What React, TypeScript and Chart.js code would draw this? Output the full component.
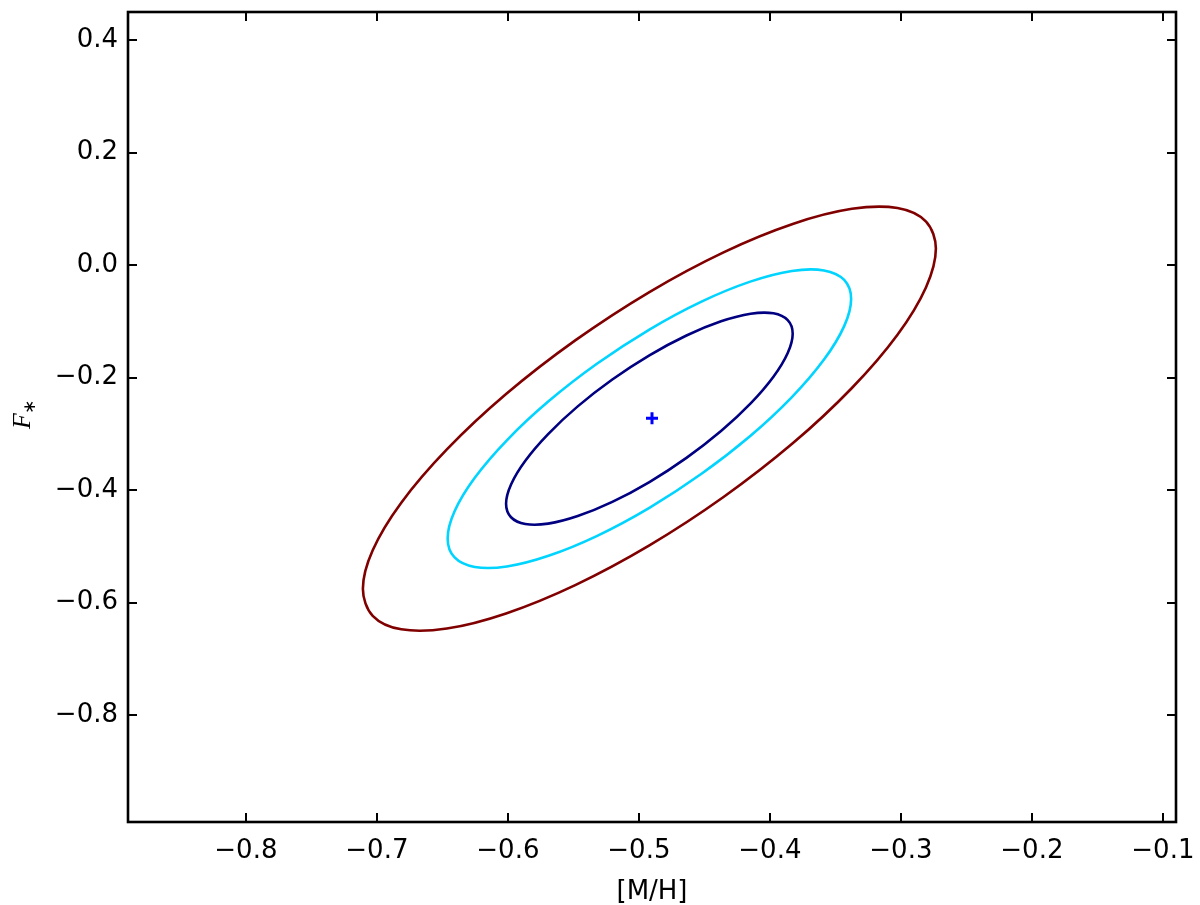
import { useEffect, useRef } from 'react';
import { Chart, registerables } from 'chart.js';

Chart.register(...registerables);

// ---- axes ----
const X_RANGE = [-0.89, -0.09];
const Y_RANGE = [-0.99, 0.45];
const X_TICKS = [-0.8, -0.7, -0.6, -0.5, -0.4, -0.3, -0.2, -0.1];
const Y_TICKS = [-0.8, -0.6, -0.4, -0.2, 0.0, 0.2, 0.4];
const X_TITLE = '[M/H]';
const Y_TITLE_MAIN = 'F';
const Y_TITLE_SUB = '\u2217';

// ---- contour points ----
const OUTER_X = [-0.2733, -0.2808, -0.3026, -0.3374, -0.3826, -0.4354, -0.4920, -0.5486, -0.6014, -0.6466, -0.6814, -0.7032,
  -0.7107, -0.7032, -0.6814, -0.6466, -0.6014, -0.5486, -0.4920, -0.4354, -0.3826, -0.3374, -0.3026, -0.2808];
const OUTER_Y = [0.0294, 0.0774, 0.1015, 0.1001, 0.0732, 0.0228, -0.0478, -0.1338, -0.2292, -0.3276, -0.4223, -0.5068,
  -0.5754, -0.6234, -0.6475, -0.6461, -0.6192, -0.5688, -0.4982, -0.4122, -0.3168, -0.2184, -0.1237, -0.0392];

const MIDDLE_X = [-0.3380, -0.3433, -0.3587, -0.3832, -0.4150, -0.4522, -0.4920, -0.5318, -0.5690, -0.6008, -0.6253, -0.6407,
  -0.6460, -0.6407, -0.6253, -0.6008, -0.5690, -0.5318, -0.4920, -0.4522, -0.4150, -0.3832, -0.3587, -0.3433];
const MIDDLE_Y = [-0.0601, -0.0263, -0.0094, -0.0103, -0.0293, -0.0648, -0.1145, -0.1750, -0.2422, -0.3114, -0.3781, -0.4376,
  -0.4859, -0.5197, -0.5366, -0.5357, -0.5167, -0.4812, -0.4315, -0.3710, -0.3038, -0.2346, -0.1679, -0.1084];

const INNER_X = [-0.3826, -0.3864, -0.3973, -0.4147, -0.4373, -0.4637, -0.4920, -0.5203, -0.5467, -0.5693, -0.5867, -0.5976,
  -0.6014, -0.5976, -0.5867, -0.5693, -0.5467, -0.5203, -0.4920, -0.4637, -0.4373, -0.4147, -0.3973, -0.3864];
const INNER_Y = [-0.1218, -0.0978, -0.0857, -0.0864, -0.0999, -0.1251, -0.1604, -0.2034, -0.2511, -0.3003, -0.3477, -0.3899,
  -0.4242, -0.4482, -0.4603, -0.4596, -0.4461, -0.4209, -0.3856, -0.3426, -0.2949, -0.2457, -0.1983, -0.1561];

const BEST_X = [-0.49];
const BEST_Y = [-0.272];

const COLORS = { outer: '#800000', middle: '#00d4ff', inner: '#000080', best: '#0000ff' };
const FONT_FAMILY = '"DejaVu Sans", sans-serif';

function fmt(value: number) {
  const v = Math.round(value * 10) / 10;
  const s = v === 0 ? '0.0' : v.toFixed(1);
  return s.replace('-', '\u2212');
}

// closed loop: wrap one point on each side so every visible segment has proper neighbours
function closedLoop(xs: number[], ys: number[]) {
  const pts = xs.map((x, i) => ({ x, y: ys[i] }));
  const n = pts.length;
  return [pts[n - 1], ...pts, pts[0], pts[1]];
}

function contourDataset(label: string, xs: number[], ys: number[], color: string) {
  const n = xs.length;
  return {
    label,
    data: closedLoop(xs, ys),
    borderColor: color,
    backgroundColor: color,
    borderWidth: 2.6,
    pointRadius: 0,
    pointHoverRadius: 0,
    tension: 0.34,
    fill: false,
    order: 2,
    segment: {
      borderColor: (c: any) => (c.p0DataIndex === 0 || c.p0DataIndex === n + 1 ? 'rgba(0,0,0,0)' : undefined),
    },
  };
}

const frameAndTicks = {
  id: 'frameAndTicks',
  afterDatasetsDraw(chart: any) {
    const { ctx, chartArea: a, scales } = chart;
    const x = scales.x;
    const y = scales.y;
    ctx.save();
    ctx.strokeStyle = '#000';
    ctx.lineWidth = 2;
    ctx.beginPath();
    X_TICKS.forEach((v) => {
      const px = Math.round(x.getPixelForValue(v));
      ctx.moveTo(px, a.bottom);
      ctx.lineTo(px, a.bottom - 9);
      ctx.moveTo(px, a.top);
      ctx.lineTo(px, a.top + 9);
    });
    Y_TICKS.forEach((v) => {
      const py = Math.round(y.getPixelForValue(v));
      ctx.moveTo(a.left, py);
      ctx.lineTo(a.left + 9, py);
      ctx.moveTo(a.right, py);
      ctx.lineTo(a.right - 9, py);
    });
    ctx.stroke();
    ctx.lineWidth = 2.6;
    ctx.strokeRect(a.left, a.top, a.right - a.left, a.bottom - a.top);

    // y-axis title F_*
    const cy = (a.top + a.bottom) / 2;
    ctx.translate(30, cy + 12);
    ctx.rotate(-Math.PI / 2);
    ctx.fillStyle = '#000';
    ctx.textBaseline = 'alphabetic';
    ctx.textAlign = 'left';
    ctx.font = 'italic 26px "Liberation Serif", serif';
    ctx.fillText(Y_TITLE_MAIN, 0, 0);
    const w = ctx.measureText(Y_TITLE_MAIN).width;
    ctx.font = '17px "DejaVu Sans", sans-serif';
    ctx.fillText(Y_TITLE_SUB, w - 1, 5);
    ctx.restore();
  },
};

export default function App() {
  const ref = useRef<HTMLCanvasElement | null>(null);

  useEffect(() => {
    if (!ref.current) return;
    const tickFont = { family: FONT_FAMILY, size: 26 };
    const chart = new Chart(ref.current, {
      type: 'line',
      data: {
        datasets: [
          {
            label: 'best fit',
            data: BEST_X.map((x, i) => ({ x, y: BEST_Y[i] })),
            showLine: false,
            pointStyle: 'cross',
            pointRadius: 6,
            pointHoverRadius: 6,
            pointBorderWidth: 3,
            pointBorderColor: COLORS.best,
            borderColor: COLORS.best,
            order: 0,
          } as any,
          contourDataset('99%', OUTER_X, OUTER_Y, COLORS.outer),
          contourDataset('90%', MIDDLE_X, MIDDLE_Y, COLORS.middle),
          contourDataset('68%', INNER_X, INNER_Y, COLORS.inner),
        ],
      },
      options: {
        animation: false,
        responsive: false,
        events: [],
        layout: { padding: { top: 12, right: 24, bottom: 0, left: 0 } },
        plugins: { legend: { display: false }, tooltip: { enabled: false } },
        scales: {
          x: {
            type: 'linear',
            min: X_RANGE[0],
            max: X_RANGE[1],
            grid: { display: false, drawTicks: false },
            border: { display: false },
            afterBuildTicks: (s: any) => {
              s.ticks = X_TICKS.map((value) => ({ value }));
            },
            afterFit: (s: any) => {
              s.height = 83;
              s.paddingLeft = 0;
              s.paddingRight = 0;
            },
            ticks: {
              font: tickFont,
              color: '#000',
              padding: 14,
              maxRotation: 0,
              autoSkip: false,
              callback: (v: any) => fmt(Number(v)),
            },
            title: {
              display: true,
              text: X_TITLE,
              color: '#000',
              font: tickFont,
              padding: { top: 0, bottom: -3 },
            },
          },
          y: {
            type: 'linear',
            min: Y_RANGE[0],
            max: Y_RANGE[1],
            grid: { display: false, drawTicks: false },
            border: { display: false },
            afterBuildTicks: (s: any) => {
              s.ticks = Y_TICKS.map((value) => ({ value }));
            },
            afterFit: (s: any) => {
              s.width = 128;
              s.paddingTop = 0;
              s.paddingBottom = 0;
            },
            ticks: {
              font: tickFont,
              color: '#000',
              padding: 10,
              autoSkip: false,
              callback: (v: any) => fmt(Number(v)),
            },
          },
        },
      },
      plugins: [frameAndTicks],
    } as any);
    return () => chart.destroy();
  }, []);

  return (
    <div style={{ position: 'absolute', left: 0, top: 0, width: 1200, height: 905, background: '#fff' }}>
      <canvas ref={ref} width={1200} height={905} style={{ display: 'block' }} />
    </div>
  );
}
